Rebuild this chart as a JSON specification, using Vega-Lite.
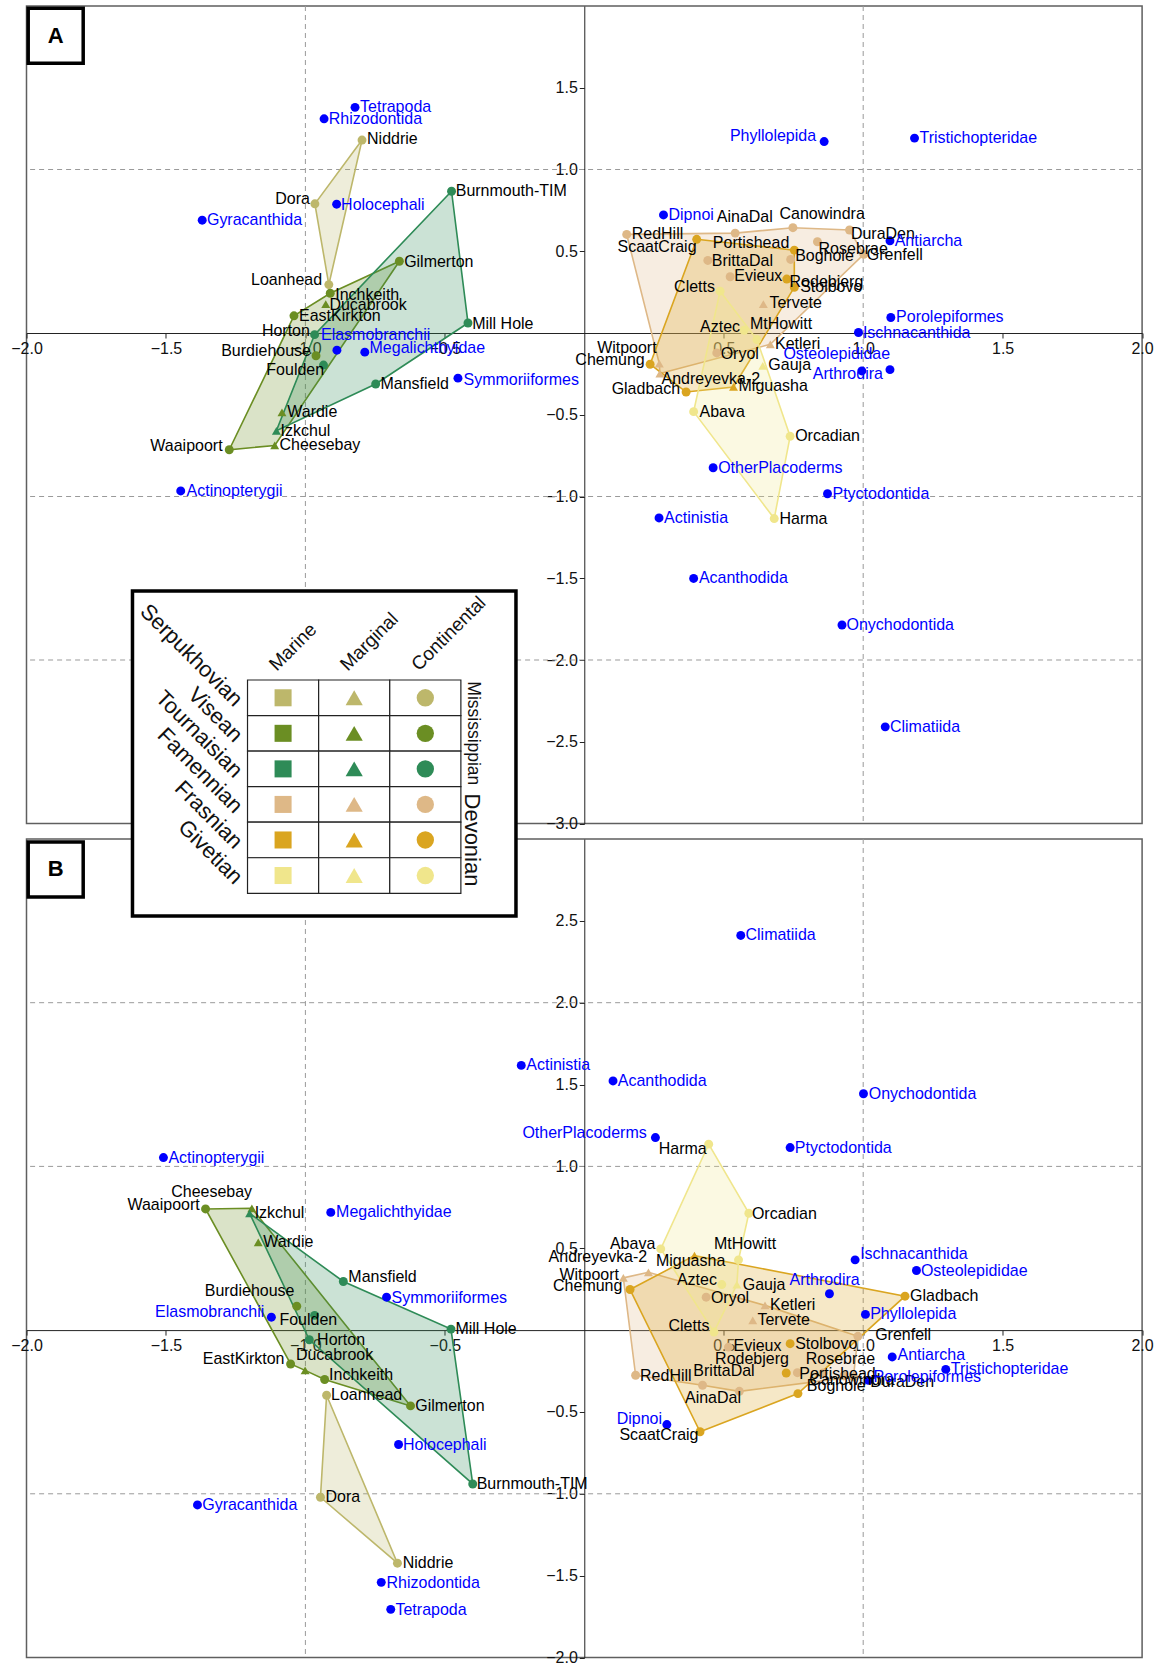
{
"$schema": "https://vega.github.io/schema/vega-lite/v6.json",
"background": "white",
"padding": {"left": 9.5, "top": 0, "right": 0, "bottom": 0},
"bounds": "flush",
"spacing": 15,
"config": {"view": {"stroke": "#5f5f5f", "strokeWidth": 1.5}, "font": "Liberation Sans"},
"datasets": {
"sites": [
{"n":"Niddrie","p":"Serpukhovian","e":"Continental","ax":-0.797,"ay":1.180,"alx":-0.779,"aly":1.188,"bx":-0.670,"by":-1.424,"blx":-0.651,"bly":-1.424},
{"n":"Dora","p":"Serpukhovian","e":"Continental","ax":-0.966,"ay":0.790,"alx":-1.108,"aly":0.818,"bx":-0.946,"by":-1.021,"blx":-0.928,"bly":-1.021},
{"n":"Loanhead","p":"Serpukhovian","e":"Continental","ax":-0.916,"ay":0.296,"alx":-1.195,"aly":0.322,"bx":-0.924,"by":-0.398,"blx":-0.908,"bly":-0.398},
{"n":"Gilmerton","p":"Visean","e":"Continental","ax":-0.663,"ay":0.439,"alx":-0.646,"aly":0.435,"bx":-0.623,"by":-0.463,"blx":-0.606,"bly":-0.463},
{"n":"Inchkeith","p":"Visean","e":"Continental","ax":-0.911,"ay":0.243,"alx":-0.893,"aly":0.231,"bx":-0.931,"by":-0.302,"blx":-0.915,"bly":-0.276},
{"n":"Ducabrook","p":"Visean","e":"Marginal","ax":-0.927,"ay":0.177,"alx":-0.914,"aly":0.169,"bx":-1.001,"by":-0.246,"blx":-1.034,"bly":-0.154},
{"n":"EastKirkton","p":"Visean","e":"Continental","ax":-1.041,"ay":0.105,"alx":-1.023,"aly":0.102,"bx":-1.053,"by":-0.207,"blx":-1.368,"bly":-0.179},
{"n":"Burdiehouse","p":"Visean","e":"Continental","ax":-0.962,"ay":-0.139,"alx":-1.302,"aly":-0.112,"bx":-1.031,"by":0.146,"blx":-1.361,"bly":0.236},
{"n":"Wardie","p":"Visean","e":"Marginal","ax":-1.084,"ay":-0.486,"alx":-1.065,"aly":-0.486,"bx":-1.169,"by":0.536,"blx":-1.151,"bly":0.540},
{"n":"Cheesebay","p":"Visean","e":"Marginal","ax":-1.110,"ay":-0.688,"alx":-1.093,"aly":-0.688,"bx":-1.192,"by":0.744,"blx":-1.481,"bly":0.845},
{"n":"Waaipoort","p":"Visean","e":"Continental","ax":-1.273,"ay":-0.714,"alx":-1.556,"aly":-0.694,"bx":-1.358,"by":0.740,"blx":-1.638,"bly":0.764},
{"n":"Burnmouth-TIM","p":"Tournaisian","e":"Continental","ax":-0.476,"ay":0.867,"alx":-0.461,"aly":0.867,"bx":-0.400,"by":-0.940,"blx":-0.386,"bly":-0.940},
{"n":"Mill Hole","p":"Tournaisian","e":"Continental","ax":-0.417,"ay":0.061,"alx":-0.402,"aly":0.057,"bx":-0.478,"by":0.006,"blx":-0.462,"bly":0.004},
{"n":"Horton","p":"Tournaisian","e":"Continental","ax":-0.967,"ay":-0.010,"alx":-1.156,"aly":0.010,"bx":-0.986,"by":-0.059,"blx":-0.958,"bly":-0.059},
{"n":"Foulden","p":"Tournaisian","e":"Continental","ax":-0.935,"ay":-0.196,"alx":-1.140,"aly":-0.229,"bx":-0.967,"by":0.090,"blx":-1.093,"bly":0.059},
{"n":"Mansfield","p":"Tournaisian","e":"Continental","ax":-0.748,"ay":-0.312,"alx":-0.731,"aly":-0.314,"bx":-0.864,"by":0.297,"blx":-0.846,"bly":0.327},
{"n":"Izkchul","p":"Tournaisian","e":"Marginal","ax":-1.104,"ay":-0.598,"alx":-1.089,"aly":-0.598,"bx":-1.200,"by":0.713,"blx":-1.182,"bly":0.715},
{"n":"RedHill","p":"Famennian","e":"Continental","ax":0.152,"ay":0.603,"alx":0.170,"aly":0.603,"bx":0.184,"by":-0.276,"blx":0.200,"bly":-0.282},
{"n":"AinaDal","p":"Famennian","e":"Continental","ax":0.541,"ay":0.611,"alx":0.475,"aly":0.711,"bx":0.556,"by":-0.374,"blx":0.361,"bly":-0.412},
{"n":"Canowindra","p":"Famennian","e":"Continental","ax":0.748,"ay":0.644,"alx":0.700,"aly":0.726,"bx":0.857,"by":-0.262,"blx":0.807,"bly":-0.307},
{"n":"DuraDen","p":"Famennian","e":"Continental","ax":0.951,"ay":0.630,"alx":0.956,"aly":0.605,"bx":0.965,"by":-0.286,"blx":1.025,"bly":-0.317},
{"n":"Rosebrae","p":"Famennian","e":"Continental","ax":0.836,"ay":0.558,"alx":0.840,"aly":0.513,"bx":0.764,"by":-0.260,"blx":0.794,"bly":-0.179},
{"n":"Boghole","p":"Famennian","e":"Continental","ax":0.740,"ay":0.450,"alx":0.756,"aly":0.471,"bx":0.930,"by":-0.280,"blx":0.798,"bly":-0.343},
{"n":"BrittaDal","p":"Famennian","e":"Continental","ax":0.443,"ay":0.444,"alx":0.457,"aly":0.442,"bx":0.424,"by":-0.337,"blx":0.391,"bly":-0.252},
{"n":"Grenfell","p":"Famennian","e":"Continental","ax":1.002,"ay":0.481,"alx":1.013,"aly":0.477,"bx":0.981,"by":-0.038,"blx":1.043,"bly":-0.032},
{"n":"Evieux","p":"Famennian","e":"Continental","ax":0.523,"ay":0.344,"alx":0.538,"aly":0.348,"bx":0.517,"by":-0.104,"blx":0.535,"bly":-0.097},
{"n":"Oryol","p":"Famennian","e":"Continental","ax":0.475,"ay":-0.122,"alx":0.489,"aly":-0.126,"bx":0.437,"by":0.201,"blx":0.454,"bly":0.197},
{"n":"Tervete","p":"Famennian","e":"Marginal","ax":0.642,"ay":0.176,"alx":0.664,"aly":0.184,"bx":0.604,"by":0.059,"blx":0.621,"bly":0.059},
{"n":"Ketleri","p":"Famennian","e":"Marginal","ax":0.667,"ay":-0.069,"alx":0.684,"aly":-0.069,"bx":0.648,"by":0.151,"blx":0.666,"bly":0.151},
{"n":"Witpoort","p":"Famennian","e":"Marginal","ax":0.269,"ay":-0.187,"alx":0.046,"aly":-0.091,"bx":0.140,"by":0.319,"blx":-0.089,"bly":0.339},
{"n":"Andreyevka-2","p":"Famennian","e":"Marginal","ax":0.271,"ay":-0.248,"alx":0.277,"aly":-0.279,"bx":0.230,"by":0.353,"blx":-0.128,"bly":0.446},
{"n":"ScaatCraig","p":"Frasnian","e":"Continental","ax":0.403,"ay":0.573,"alx":0.119,"aly":0.528,"bx":0.415,"by":-0.621,"blx":0.126,"bly":-0.642},
{"n":"Portishead","p":"Frasnian","e":"Continental","ax":0.753,"ay":0.507,"alx":0.461,"aly":0.548,"bx":0.766,"by":-0.388,"blx":0.771,"bly":-0.266},
{"n":"Rodebjerg","p":"Frasnian","e":"Continental","ax":0.726,"ay":0.330,"alx":0.736,"aly":0.313,"bx":0.724,"by":-0.262,"blx":0.469,"bly":-0.179},
{"n":"Stolbovo","p":"Frasnian","e":"Continental","ax":0.753,"ay":0.279,"alx":0.774,"aly":0.279,"bx":0.738,"by":-0.083,"blx":0.756,"bly":-0.083},
{"n":"Gladbach","p":"Frasnian","e":"Continental","ax":0.365,"ay":-0.361,"alx":0.098,"aly":-0.340,"bx":1.150,"by":0.207,"blx":1.168,"bly":0.207},
{"n":"Chemung","p":"Frasnian","e":"Continental","ax":0.236,"ay":-0.191,"alx":-0.032,"aly":-0.167,"bx":0.164,"by":0.248,"blx":-0.112,"bly":0.268},
{"n":"Miguasha","p":"Frasnian","e":"Marginal","ax":0.535,"ay":-0.330,"alx":0.553,"aly":-0.324,"bx":0.395,"by":0.455,"blx":0.257,"bly":0.421},
{"n":"Cletts","p":"Givetian","e":"Continental","ax":0.487,"ay":0.256,"alx":0.322,"aly":0.279,"bx":0.465,"by":-0.012,"blx":0.302,"bly":0.025},
{"n":"Aztec","p":"Givetian","e":"Continental","ax":0.573,"ay":0.017,"alx":0.415,"aly":0.037,"bx":0.493,"by":0.278,"blx":0.332,"bly":0.307},
{"n":"MtHowitt","p":"Givetian","e":"Continental","ax":0.619,"ay":-0.040,"alx":0.594,"aly":0.054,"bx":0.553,"by":0.429,"blx":0.465,"bly":0.526},
{"n":"Gauja","p":"Givetian","e":"Marginal","ax":0.640,"ay":-0.201,"alx":0.660,"aly":-0.197,"bx":0.547,"by":0.278,"blx":0.568,"bly":0.278},
{"n":"Abava","p":"Givetian","e":"Continental","ax":0.392,"ay":-0.481,"alx":0.413,"aly":-0.483,"bx":0.274,"by":0.496,"blx":0.092,"bly":0.526},
{"n":"Orcadian","p":"Givetian","e":"Continental","ax":0.738,"ay":-0.632,"alx":0.756,"aly":-0.632,"bx":0.590,"by":0.714,"blx":0.601,"bly":0.709},
{"n":"Harma","p":"Givetian","e":"Continental","ax":0.681,"ay":-1.135,"alx":0.700,"aly":-1.135,"bx":0.446,"by":1.136,"blx":0.267,"bly":1.105}
],
"taxa": [
{"n":"Tetrapoda","ax":-0.822,"ay":1.380,"alx":-0.804,"aly":1.380,"bx":-0.694,"by":-1.706,"blx":-0.677,"bly":-1.708},
{"n":"Rhizodontida","ax":-0.933,"ay":1.310,"alx":-0.916,"aly":1.306,"bx":-0.728,"by":-1.541,"blx":-0.709,"bly":-1.545},
{"n":"Holocephali","ax":-0.888,"ay":0.788,"alx":-0.872,"aly":0.782,"bx":-0.666,"by":-0.699,"blx":-0.650,"bly":-0.703},
{"n":"Gyracanthida","ax":-1.370,"ay":0.690,"alx":-1.353,"aly":0.690,"bx":-1.387,"by":-1.068,"blx":-1.370,"bly":-1.068},
{"n":"Elasmobranchii","ax":-0.887,"ay":-0.105,"alx":-0.944,"aly":-0.014,"bx":-1.122,"by":0.079,"blx":-1.539,"bly":0.110},
{"n":"Megalichthyidae","ax":-0.787,"ay":-0.117,"alx":-0.770,"aly":-0.092,"bx":-0.909,"by":0.719,"blx":-0.890,"bly":0.719},
{"n":"Symmoriiformes","ax":-0.453,"ay":-0.276,"alx":-0.433,"aly":-0.286,"bx":-0.709,"by":0.201,"blx":-0.691,"bly":0.197},
{"n":"Actinopterygii","ax":-1.447,"ay":-0.966,"alx":-1.426,"aly":-0.965,"bx":-1.509,"by":1.054,"blx":-1.491,"bly":1.054},
{"n":"Phyllolepida","ax":0.860,"ay":1.171,"alx":0.522,"aly":1.202,"bx":1.008,"by":0.096,"blx":1.025,"bly":0.096},
{"n":"Tristichopteridae","ax":1.184,"ay":1.192,"alx":1.202,"aly":1.192,"bx":1.296,"by":-0.240,"blx":1.314,"bly":-0.240},
{"n":"Dipnoi","ax":0.284,"ay":0.722,"alx":0.302,"aly":0.722,"bx":0.296,"by":-0.577,"blx":0.116,"bly":-0.546},
{"n":"Antiarcha","ax":1.096,"ay":0.564,"alx":1.113,"aly":0.562,"bx":1.104,"by":-0.164,"blx":1.123,"bly":-0.154},
{"n":"Porolepiformes","ax":1.099,"ay":0.095,"alx":1.118,"aly":0.095,"bx":1.019,"by":-0.307,"blx":1.037,"bly":-0.286},
{"n":"Ischnacanthida","ax":0.983,"ay":0.003,"alx":0.999,"aly":-0.003,"bx":0.971,"by":0.429,"blx":0.989,"bly":0.466},
{"n":"Osteolepididae","ax":0.995,"ay":-0.232,"alx":0.714,"aly":-0.130,"bx":1.191,"by":0.364,"blx":1.207,"bly":0.361},
{"n":"Arthrodira","ax":1.096,"ay":-0.224,"alx":0.819,"aly":-0.252,"bx":0.879,"by":0.222,"blx":0.736,"bly":0.309},
{"n":"OtherPlacoderms","ax":0.462,"ay":-0.824,"alx":0.480,"aly":-0.824,"bx":0.255,"by":1.176,"blx":-0.222,"bly":1.207},
{"n":"Ptyctodontida","ax":0.872,"ay":-0.983,"alx":0.890,"aly":-0.983,"bx":0.738,"by":1.115,"blx":0.755,"bly":1.111},
{"n":"Actinistia","ax":0.268,"ay":-1.131,"alx":0.286,"aly":-1.131,"bx":-0.226,"by":1.617,"blx":-0.208,"bly":1.617},
{"n":"Acanthodida","ax":0.392,"ay":-1.501,"alx":0.411,"aly":-1.501,"bx":0.103,"by":1.522,"blx":0.120,"bly":1.522},
{"n":"Onychodontida","ax":0.924,"ay":-1.786,"alx":0.940,"aly":-1.786,"bx":1.001,"by":1.444,"blx":1.020,"bly":1.440},
{"n":"Climatiida","ax":1.079,"ay":-2.409,"alx":1.096,"aly":-2.409,"bx":0.561,"by":2.411,"blx":0.578,"bly":2.411}
],
"hullA": [
{"p":"Serpukhovian","n":"Niddrie","o":1},{"p":"Serpukhovian","n":"Loanhead","o":2},{"p":"Serpukhovian","n":"Dora","o":3},
{"p":"Visean","n":"Gilmerton","o":1},{"p":"Visean","n":"Cheesebay","o":2},{"p":"Visean","n":"Waaipoort","o":3},{"p":"Visean","n":"EastKirkton","o":4},{"p":"Visean","n":"Inchkeith","o":5},
{"p":"Tournaisian","n":"Burnmouth-TIM","o":1},{"p":"Tournaisian","n":"Mill Hole","o":2},{"p":"Tournaisian","n":"Mansfield","o":3},{"p":"Tournaisian","n":"Izkchul","o":4},{"p":"Tournaisian","n":"Horton","o":5},
{"p":"Famennian","n":"RedHill","o":1},{"p":"Famennian","n":"AinaDal","o":2},{"p":"Famennian","n":"Canowindra","o":3},{"p":"Famennian","n":"DuraDen","o":4},{"p":"Famennian","n":"Grenfell","o":5},{"p":"Famennian","n":"Ketleri","o":6},{"p":"Famennian","n":"Andreyevka-2","o":7},{"p":"Famennian","n":"Witpoort","o":8},
{"p":"Frasnian","n":"ScaatCraig","o":1},{"p":"Frasnian","n":"Portishead","o":2},{"p":"Frasnian","n":"Stolbovo","o":3},{"p":"Frasnian","n":"Miguasha","o":4},{"p":"Frasnian","n":"Gladbach","o":5},{"p":"Frasnian","n":"Chemung","o":6},
{"p":"Givetian","n":"Cletts","o":1},{"p":"Givetian","n":"MtHowitt","o":2},{"p":"Givetian","n":"Orcadian","o":3},{"p":"Givetian","n":"Harma","o":4},{"p":"Givetian","n":"Abava","o":5}
],
"hullB": [
{"p":"Serpukhovian","n":"Loanhead","o":1},{"p":"Serpukhovian","n":"Niddrie","o":2},{"p":"Serpukhovian","n":"Dora","o":3},
{"p":"Visean","n":"Waaipoort","o":1},{"p":"Visean","n":"Cheesebay","o":2},{"p":"Visean","n":"Gilmerton","o":3},{"p":"Visean","n":"Inchkeith","o":4},{"p":"Visean","n":"Ducabrook","o":5},{"p":"Visean","n":"EastKirkton","o":6},
{"p":"Tournaisian","n":"Izkchul","o":1},{"p":"Tournaisian","n":"Mansfield","o":2},{"p":"Tournaisian","n":"Mill Hole","o":3},{"p":"Tournaisian","n":"Burnmouth-TIM","o":4},{"p":"Tournaisian","n":"Horton","o":5},
{"p":"Famennian","n":"Witpoort","o":1},{"p":"Famennian","n":"Andreyevka-2","o":2},{"p":"Famennian","n":"Ketleri","o":3},{"p":"Famennian","n":"Grenfell","o":4},{"p":"Famennian","n":"DuraDen","o":5},{"p":"Famennian","n":"AinaDal","o":6},{"p":"Famennian","n":"BrittaDal","o":7},{"p":"Famennian","n":"RedHill","o":8},
{"p":"Frasnian","n":"Chemung","o":1},{"p":"Frasnian","n":"Miguasha","o":2},{"p":"Frasnian","n":"Gladbach","o":3},{"p":"Frasnian","n":"Portishead","o":4},{"p":"Frasnian","n":"ScaatCraig","o":5},
{"p":"Givetian","n":"Harma","o":1},{"p":"Givetian","n":"Orcadian","o":2},{"p":"Givetian","n":"MtHowitt","o":3},{"p":"Givetian","n":"Gauja","o":4},{"p":"Givetian","n":"Cletts","o":5},{"p":"Givetian","n":"Abava","o":6}
],
"cells": [
{"p":"Serpukhovian","e":"Marine"},{"p":"Serpukhovian","e":"Marginal"},{"p":"Serpukhovian","e":"Continental"},
{"p":"Visean","e":"Marine"},{"p":"Visean","e":"Marginal"},{"p":"Visean","e":"Continental"},
{"p":"Tournaisian","e":"Marine"},{"p":"Tournaisian","e":"Marginal"},{"p":"Tournaisian","e":"Continental"},
{"p":"Famennian","e":"Marine"},{"p":"Famennian","e":"Marginal"},{"p":"Famennian","e":"Continental"},
{"p":"Frasnian","e":"Marine"},{"p":"Frasnian","e":"Marginal"},{"p":"Frasnian","e":"Continental"},
{"p":"Givetian","e":"Marine"},{"p":"Givetian","e":"Marginal"},{"p":"Givetian","e":"Continental"}
]
},
"vconcat": [
{
"width": 1115.6, "height": 817.5,
"layer": [
{"data": {"values": [{"g": -1}, {"g": 1}]},
 "mark": {"type": "rule", "color": "#9a9a9a", "strokeDash": [5, 4], "strokeWidth": 1},
 "encoding": {"x": {"field": "g", "type": "quantitative", "title": null, "scale": {"domain": [-2, 2], "nice": false, "zero": false},
   "axis": {"title": null, "orient": "bottom", "offset": -490.5, "values": [-2, -1.5, -1, -0.5, 0.5, 1, 1.5, 2], "format": ".1f", "labelFlush": false, "labelOverlap": false, "grid": false, "domainColor": "#222", "tickColor": "#222", "tickSize": 5, "labelFontSize": 16, "labelColor": "#111", "labelPadding": 2}}}},
{"data": {"values": [{"g": 1}, {"g": -1}, {"g": -2}]},
 "mark": {"type": "rule", "color": "#9a9a9a", "strokeDash": [5, 4], "strokeWidth": 1},
 "encoding": {"y": {"field": "g", "type": "quantitative", "title": null, "scale": {"domain": [-3, 2], "nice": false, "zero": false},
   "axis": {"title": null, "orient": "left", "offset": -557.8, "values": [-3, -2.5, -2, -1.5, -1, -0.5, 0.5, 1, 1.5], "format": ".1f", "labelFlush": false, "labelOverlap": false, "grid": false, "domainColor": "#222", "tickColor": "#222", "tickSize": 5, "labelFontSize": 16, "labelColor": "#111", "labelPadding": 2}}}},
{"data": {"name": "hullA"},
 "transform": [{"lookup": "n", "from": {"data": {"name": "sites"}, "key": "n", "fields": ["ax", "ay"]}}],
 "mark": {"type": "line", "interpolate": "linear-closed", "strokeWidth": 1.6, "fillOpacity": 0.25},
 "encoding": {
  "x": {"field": "ax", "type": "quantitative", "title": null},
  "y": {"field": "ay", "type": "quantitative", "title": null},
  "order": {"field": "o", "type": "quantitative"},
  "stroke": {"field": "p", "type": "nominal", "legend": null, "scale": {"domain": ["Serpukhovian","Visean","Tournaisian","Famennian","Frasnian","Givetian"], "range": ["#BDB76B","#6B8E23","#2E8B57","#DEB887","#DAA520","#F0E68C"]}},
  "fill": {"field": "p", "type": "nominal", "legend": null, "scale": {"domain": ["Serpukhovian","Visean","Tournaisian","Famennian","Frasnian","Givetian"], "range": ["#BDB76B","#6B8E23","#2E8B57","#DEB887","#DAA520","#F0E68C"]}}}},
{"data": {"name": "sites"},
 "mark": {"type": "point", "filled": true, "size": 80, "opacity": 1},
 "encoding": {
  "x": {"field": "ax", "type": "quantitative", "title": null},
  "y": {"field": "ay", "type": "quantitative", "title": null},
  "shape": {"field": "e", "type": "nominal", "legend": null, "scale": {"domain": ["Marine","Marginal","Continental"], "range": ["square","triangle-up","circle"]}},
  "color": {"field": "p", "type": "nominal", "legend": null, "scale": {"domain": ["Serpukhovian","Visean","Tournaisian","Famennian","Frasnian","Givetian"], "range": ["#BDB76B","#6B8E23","#2E8B57","#DEB887","#DAA520","#F0E68C"]}}}},
{"data": {"name": "taxa"},
 "mark": {"type": "circle", "size": 80, "color": "#0000ff", "opacity": 1},
 "encoding": {"x": {"field": "ax", "type": "quantitative", "title": null}, "y": {"field": "ay", "type": "quantitative", "title": null}}},
{"data": {"name": "sites"},
 "mark": {"type": "text", "align": "left", "baseline": "middle", "fontSize": 16, "color": "#000"},
 "encoding": {"x": {"field": "alx", "type": "quantitative", "title": null}, "y": {"field": "aly", "type": "quantitative", "title": null}, "text": {"field": "n"}}},
{"data": {"name": "taxa"},
 "mark": {"type": "text", "align": "left", "baseline": "middle", "fontSize": 16, "color": "#0000ff"},
 "encoding": {"x": {"field": "alx", "type": "quantitative", "title": null}, "y": {"field": "aly", "type": "quantitative", "title": null}, "text": {"field": "n"}}},
{"data": {"values": [{"t": "A"}]},
 "mark": {"type": "square", "size": 3025, "color": "white", "stroke": "black", "strokeWidth": 3.5, "opacity": 1},
 "encoding": {"x": {"datum": -1.8953}, "y": {"datum": 1.8174}}},
{"data": {"values": [{"t": "A"}]},
 "mark": {"type": "text", "fontSize": 22, "fontWeight": "bold", "align": "center", "baseline": "middle", "color": "black"},
 "encoding": {"x": {"datum": -1.8953}, "y": {"datum": 1.8174}, "text": {"field": "t"}}}
]
},
{
"width": 1115.6, "height": 818.5,
"layer": [
{"layer": [
{"data": {"values": [{"g": -1}, {"g": 1}]},
 "mark": {"type": "rule", "color": "#9a9a9a", "strokeDash": [5, 4], "strokeWidth": 1},
 "encoding": {"x": {"field": "g", "type": "quantitative", "title": null, "scale": {"domain": [-2, 2], "nice": false, "zero": false},
   "axis": {"title": null, "orient": "bottom", "offset": -327.4, "values": [-2, -1.5, -1, -0.5, 0.5, 1, 1.5, 2], "format": ".1f", "labelFlush": false, "labelOverlap": false, "grid": false, "domainColor": "#222", "tickColor": "#222", "tickSize": 5, "labelFontSize": 16, "labelColor": "#111", "labelPadding": 2}}}},
{"data": {"values": [{"g": 2}, {"g": 1}, {"g": -1}]},
 "mark": {"type": "rule", "color": "#9a9a9a", "strokeDash": [5, 4], "strokeWidth": 1},
 "encoding": {"y": {"field": "g", "type": "quantitative", "title": null, "scale": {"domain": [-2, 3], "nice": false, "zero": false},
   "axis": {"title": null, "orient": "left", "offset": -557.8, "values": [-2, -1.5, -1, -0.5, 0.5, 1, 1.5, 2, 2.5], "format": ".1f", "labelFlush": false, "labelOverlap": false, "grid": false, "domainColor": "#222", "tickColor": "#222", "tickSize": 5, "labelFontSize": 16, "labelColor": "#111", "labelPadding": 2}}}},
{"data": {"name": "hullB"},
 "transform": [{"lookup": "n", "from": {"data": {"name": "sites"}, "key": "n", "fields": ["bx", "by"]}}],
 "mark": {"type": "line", "interpolate": "linear-closed", "strokeWidth": 1.6, "fillOpacity": 0.25},
 "encoding": {
  "x": {"field": "bx", "type": "quantitative", "title": null},
  "y": {"field": "by", "type": "quantitative", "title": null},
  "order": {"field": "o", "type": "quantitative"},
  "stroke": {"field": "p", "type": "nominal", "legend": null, "scale": {"domain": ["Serpukhovian","Visean","Tournaisian","Famennian","Frasnian","Givetian"], "range": ["#BDB76B","#6B8E23","#2E8B57","#DEB887","#DAA520","#F0E68C"]}},
  "fill": {"field": "p", "type": "nominal", "legend": null, "scale": {"domain": ["Serpukhovian","Visean","Tournaisian","Famennian","Frasnian","Givetian"], "range": ["#BDB76B","#6B8E23","#2E8B57","#DEB887","#DAA520","#F0E68C"]}}}},
{"data": {"name": "sites"},
 "mark": {"type": "point", "filled": true, "size": 80, "opacity": 1},
 "encoding": {
  "x": {"field": "bx", "type": "quantitative", "title": null},
  "y": {"field": "by", "type": "quantitative", "title": null},
  "shape": {"field": "e", "type": "nominal", "legend": null, "scale": {"domain": ["Marine","Marginal","Continental"], "range": ["square","triangle-up","circle"]}},
  "color": {"field": "p", "type": "nominal", "legend": null, "scale": {"domain": ["Serpukhovian","Visean","Tournaisian","Famennian","Frasnian","Givetian"], "range": ["#BDB76B","#6B8E23","#2E8B57","#DEB887","#DAA520","#F0E68C"]}}}},
{"data": {"name": "taxa"},
 "mark": {"type": "circle", "size": 80, "color": "#0000ff", "opacity": 1},
 "encoding": {"x": {"field": "bx", "type": "quantitative", "title": null}, "y": {"field": "by", "type": "quantitative", "title": null}}},
{"data": {"name": "sites"},
 "mark": {"type": "text", "align": "left", "baseline": "middle", "fontSize": 16, "color": "#000"},
 "encoding": {"x": {"field": "blx", "type": "quantitative", "title": null}, "y": {"field": "bly", "type": "quantitative", "title": null}, "text": {"field": "n"}}},
{"data": {"name": "taxa"},
 "mark": {"type": "text", "align": "left", "baseline": "middle", "fontSize": 16, "color": "#0000ff"},
 "encoding": {"x": {"field": "blx", "type": "quantitative", "title": null}, "y": {"field": "bly", "type": "quantitative", "title": null}, "text": {"field": "n"}}},
{"data": {"values": [{"t": "B"}]},
 "mark": {"type": "square", "size": 3025, "color": "white", "stroke": "black", "strokeWidth": 3.5, "opacity": 1},
 "encoding": {"x": {"datum": -1.8953}, "y": {"datum": 2.8143}}},
{"data": {"values": [{"t": "B"}]},
 "mark": {"type": "text", "fontSize": 22, "fontWeight": "bold", "align": "center", "baseline": "middle", "color": "black"},
 "encoding": {"x": {"datum": -1.8953}, "y": {"datum": 2.8143}, "text": {"field": "t"}}},
{"data": {"values": [{"t": "box"}]},
 "mark": {"type": "rect", "fill": "white", "stroke": "black", "strokeWidth": 3.5, "opacity": 1},
 "encoding": {"x": {"datum": -1.62}, "x2": {"datum": -0.245}, "y": {"datum": 4.515}, "y2": {"datum": 2.53}}}
]},
{"layer": [
{"data": {"name": "cells"},
 "mark": {"type": "rect", "fill": "white", "stroke": "#222", "strokeWidth": 1.2, "opacity": 1},
 "encoding": {
  "x": {"field": "e", "type": "nominal", "axis": null, "scale": {"type": "band", "domain": ["lab","Marine","Marginal","Continental","side"], "range": [149.9, 505.5], "paddingInner": 0, "paddingOuter": 0}},
  "y": {"field": "p", "type": "nominal", "axis": null, "scale": {"type": "band", "domain": ["hdr","Serpukhovian","Visean","Tournaisian","Famennian","Frasnian","Givetian"], "range": [-194.55, 54.3], "paddingInner": 0, "paddingOuter": 0}}}},
{"data": {"name": "cells"},
 "mark": {"type": "point", "filled": true, "opacity": 1},
 "encoding": {
  "x": {"field": "e", "type": "nominal", "axis": null},
  "y": {"field": "p", "type": "nominal", "axis": null},
  "shape": {"field": "e", "type": "nominal", "legend": null, "scale": {"domain": ["Marine","Marginal","Continental"], "range": ["square","triangle-up","circle"]}},
  "size": {"field": "e", "type": "nominal", "legend": null, "scale": {"domain": ["Marine","Marginal","Continental"], "range": [290, 300, 230]}},
  "color": {"field": "p", "type": "nominal", "legend": null, "scale": {"domain": ["Serpukhovian","Visean","Tournaisian","Famennian","Frasnian","Givetian"], "range": ["#BDB76B","#6B8E23","#2E8B57","#DEB887","#DAA520","#F0E68C"]}}}},
{"data": {"values": [{"e": "Marine", "r": "hdr"}, {"e": "Marginal", "r": "hdr"}, {"e": "Continental", "r": "hdr"}]},
 "mark": {"type": "text", "angle": 315, "align": "left", "baseline": "alphabetic", "fontSize": 19, "color": "#111"},
 "encoding": {
  "x": {"field": "e", "type": "nominal", "axis": null, "bandPosition": 0.41},
  "y": {"field": "r", "type": "nominal", "axis": null, "bandPosition": 0.77},
  "text": {"field": "e"}}},
{"data": {"values": [{"p": "Serpukhovian", "c": "lab"}, {"p": "Visean", "c": "lab"}, {"p": "Tournaisian", "c": "lab"}, {"p": "Famennian", "c": "lab"}, {"p": "Frasnian", "c": "lab"}, {"p": "Givetian", "c": "lab"}]},
 "mark": {"type": "text", "angle": 45, "align": "right", "baseline": "alphabetic", "fontSize": 22, "color": "#111"},
 "encoding": {
  "x": {"field": "c", "type": "nominal", "axis": null, "bandPosition": 0.81},
  "y": {"field": "p", "type": "nominal", "axis": null, "bandPosition": 0.78},
  "text": {"field": "p"}}},
{"data": {"values": [{"t": "Mississippian", "c": "side", "p": "Visean"}]},
 "mark": {"type": "text", "angle": 90, "align": "center", "baseline": "middle", "fontSize": 17.5, "color": "#111"},
 "encoding": {
  "x": {"field": "c", "type": "nominal", "axis": null, "bandPosition": 0.17},
  "y": {"field": "p", "type": "nominal", "axis": null, "bandPosition": 0.5},
  "text": {"field": "t"}}},
{"data": {"values": [{"t": "Devonian", "c": "side", "p": "Frasnian"}]},
 "mark": {"type": "text", "angle": 90, "align": "center", "baseline": "middle", "fontSize": 22, "color": "#111"},
 "encoding": {
  "x": {"field": "c", "type": "nominal", "axis": null, "bandPosition": 0.16},
  "y": {"field": "p", "type": "nominal", "axis": null, "bandPosition": 0.5},
  "text": {"field": "t"}}}
]}
],
"resolve": {"scale": {"x": "independent", "y": "independent"}}
}
]
}
